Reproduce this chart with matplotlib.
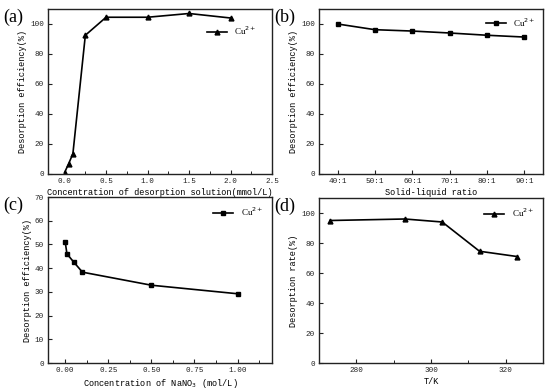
import numpy as np
import matplotlib
matplotlib.use("Agg")
import matplotlib.pyplot as plt
from matplotlib.ticker import AutoMinorLocator

# (a) concentration of desorption solution
conc_a = [0.0, 0.05, 0.1, 0.25, 0.5, 1.0, 1.5, 2.0]
eff_a = [1.0, 7.0, 13.5, 92.5, 104.5, 104.5, 107.0, 104.0]

# (b) solid-liquid ratio
ratio_labels = ["40:1", "50:1", "60:1", "70:1", "80:1", "90:1"]
eff_b = [100.0, 96.2, 95.3, 94.0, 92.5, 91.3]

# (c) NaNO3 concentration
conc_c = [0.0, 0.01, 0.05, 0.1, 0.5, 1.0]
eff_c = [51.0, 46.0, 42.5, 38.3, 32.8, 29.2]

# (d) temperature
temp_d = [273, 293, 303, 313, 323]
rate_d = [95.0, 96.0, 94.0, 74.5, 71.0]

MONO = "Liberation Mono"
SERIF = "Liberation Serif"
W, H = 550, 390

fig = plt.figure(figsize=(5.5, 3.9), dpi=100)


def make_axes(left, top, right, bottom):
    return fig.add_axes([left / W, 1 - bottom / H, (right - left) / W, (bottom - top) / H])


def style(ax, label, xlabel, ylabel, minor=True, legpad=0.6):
    for s in ax.spines.values():
        s.set_linewidth(1.0)
        s.set_color("#222222")
    ax.tick_params(direction="in", length=3, width=0.8, labelsize=5.5, pad=3,
                   colors="#222222")
    ax.tick_params(which="minor", direction="in", length=2, width=0.6)
    if minor:
        ax.xaxis.set_minor_locator(AutoMinorLocator(2))
    for t in ax.get_xticklabels() + ax.get_yticklabels():
        t.set_family(MONO)
    ax.set_xlabel(xlabel, fontsize=6.2, family=MONO, labelpad=2)
    ax.set_ylabel(ylabel, fontsize=6.2, family=MONO, labelpad=2)
    ax.text(-0.2, 1.0, label, transform=ax.transAxes, fontsize=13,
            family=SERIF, va="top", ha="left")
    ax.legend(loc="upper right", frameon=False, prop={"family": SERIF, "size": 6.5},
              handlelength=2.2, borderaxespad=legpad)


# (a)
ax = make_axes(48, 9, 272, 174)
ax.plot(conc_a, eff_a, "k-^", lw=1.2, ms=3.5, label="Cu$^{2+}$")
ax.set_xlim(-0.2, 2.5)
ax.set_ylim(0, 110)
ax.set_xticks([0, 0.5, 1.0, 1.5, 2.0, 2.5])
ax.set_xticklabels(["0.0", "0.5", "1.0", "1.5", "2.0", "2.5"])
ax.set_yticks([0, 20, 40, 60, 80, 100])
style(ax, "(a)", "Concentration of desorption solution(mmol/L)", "Desorption efficiency(%)",
      legpad=1.3)

# (b)
ax = make_axes(319, 9, 543, 174)
xb = np.arange(len(ratio_labels))
ax.plot(xb, eff_b, "k-s", lw=1.2, ms=3, label="Cu$^{2+}$")
ax.set_xlim(-0.5, 5.5)
ax.set_ylim(0, 110)
ax.set_xticks(xb)
ax.set_xticklabels(ratio_labels)
ax.set_yticks([0, 20, 40, 60, 80, 100])
style(ax, "(b)", "Solid-liquid ratio", "Desorption efficiency(%)", minor=False, legpad=0.4)

# (c)
ax = make_axes(48, 197, 272, 363)
ax.plot(conc_c, eff_c, "k-s", lw=1.2, ms=3, label="Cu$^{2+}$")
ax.set_xlim(-0.1, 1.2)
ax.set_ylim(0, 70)
ax.set_xticks([0, 0.25, 0.5, 0.75, 1.0])
ax.set_xticklabels(["0.00", "0.25", "0.50", "0.75", "1.00"])
ax.set_yticks(range(0, 71, 10))
style(ax, "(c)", "Concentration of NaNO$_3$ (mol/L)", "Desorption efficiency(%)")

# (d)
ax = make_axes(319, 198, 543, 363)
ax.plot(temp_d, rate_d, "k-^", lw=1.2, ms=3.5, label="Cu$^{2+}$")
ax.set_xlim(270, 330)
ax.set_ylim(0, 110)
ax.set_xticks([280, 300, 320])
ax.set_yticks([0, 20, 40, 60, 80, 100])
style(ax, "(d)", "T/K", "Desorption rate(%)")

fig.savefig("out.png", dpi=100)
